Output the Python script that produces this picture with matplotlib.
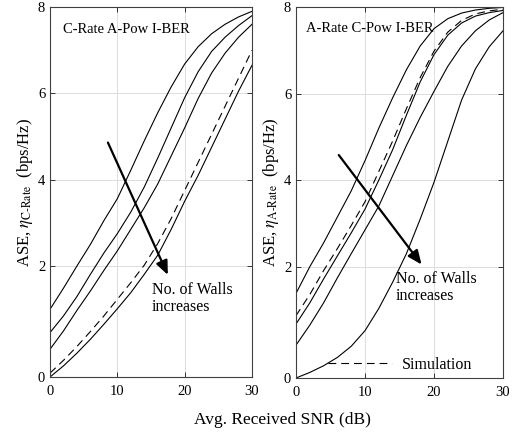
import numpy as np
import matplotlib
matplotlib.use("Agg")
import matplotlib.pyplot as plt

plt.rcParams['font.family'] = ['Liberation Serif', 'DejaVu Serif']
plt.rcParams['mathtext.fontset'] = 'stix'

snr = [0, 2, 4, 6, 8, 10, 12, 14, 16, 18, 20, 22, 24, 26, 28, 30]

# left panel: C-Rate A-Pow I-BER (walls increase top -> bottom)
crate_1 = [1.22, 1.6, 2.0, 2.5, 3.05, 3.56, 4.22, 4.9, 5.55, 6.15, 6.68, 7.08, 7.38, 7.6, 7.77, 7.9]
crate_2 = [0.8, 1.1, 1.45, 1.85, 2.3, 2.75, 3.25, 3.83, 4.5, 5.2, 5.9, 6.5, 6.97, 7.3, 7.57, 7.8]
crate_3 = [0.5, 0.83, 1.2, 1.55, 1.92, 2.35, 2.85, 3.35, 3.9, 4.55, 5.2, 5.88, 6.47, 6.93, 7.3, 7.6]
crate_sim = [0.07, 0.3, 0.55, 0.82, 1.1, 1.4, 1.7, 2.02, 2.52, 3.1, 3.75, 4.4, 5.05, 5.7, 6.35, 7.0]
crate_4 = [0.0, 0.2, 0.43, 0.68, 0.95, 1.23, 1.52, 1.85, 2.25, 2.85, 3.5, 4.1, 4.75, 5.4, 6.05, 6.65]

# right panel: A-Rate C-Pow I-BER
arate_1 = [1.52, 2.0, 2.55, 3.15, 3.75, 4.45, 5.2, 5.9, 6.55, 7.1, 7.5, 7.73, 7.86, 7.93, 7.97, 7.99]
arate_sim = [1.12, 1.5, 1.93, 2.42, 2.95, 3.5, 4.2, 4.9, 5.65, 6.37, 6.98, 7.42, 7.69, 7.84, 7.91, 7.95]
arate_2 = [0.97, 1.35, 1.78, 2.25, 2.78, 3.33, 4.0, 4.7, 5.5, 6.27, 6.9, 7.35, 7.63, 7.79, 7.87, 7.92]
arate_3 = [0.59, 0.95, 1.35, 1.8, 2.3, 2.85, 3.4, 4.1, 4.8, 5.45, 6.05, 6.63, 7.1, 7.45, 7.7, 7.87]
arate_4 = [0.0, 0.1, 0.22, 0.37, 0.57, 0.85, 1.25, 1.72, 2.3, 3.1, 3.95, 4.9, 5.85, 6.57, 7.08, 7.45]

xticks = [0, 10, 20, 30]
yticks = [0, 2, 4, 6, 8]


# y axis in the original is stretched below 2
def fwd(y):
    y = np.asarray(y, dtype=float)
    return np.where(y <= 2, y * 0.15, 0.3 + (y - 2) * 0.7 / 6)


def inv(t):
    t = np.asarray(t, dtype=float)
    return np.where(t <= 0.3, t / 0.15, 2 + (t - 0.3) * 6 / 0.7)


fig = plt.figure(figsize=(5.13, 4.34), dpi=100)
ax1 = fig.add_axes([50 / 513, 57 / 434, 202 / 513, 370 / 434])
ax2 = fig.add_axes([296 / 513, 56 / 434, 207 / 513, 371 / 434])

dash = [7, 4.5]

for c in [crate_1, crate_2, crate_3, crate_4]:
    ax1.plot(snr, c, color='k', lw=0.8)
ax1.plot(snr, crate_sim, color='k', lw=0.8, dashes=dash)

for c in [arate_1, arate_2, arate_3, arate_4]:
    ax2.plot(snr, c, color='k', lw=0.8)
ax2.plot(snr, arate_sim, color='k', lw=0.8, dashes=dash, label='Simulation')

for ax in (ax1, ax2):
    ax.set_yscale('function', functions=(fwd, inv))
    ax.set_xlim(0, 30)
    ax.set_ylim(0, 8)
    ax.set_xticks(xticks)
    ax.set_yticks(yticks)
    ax.set_xticklabels([str(v) for v in xticks])
    ax.set_yticklabels([str(v) for v in yticks])
    ax.grid(True, color='#dddddd', lw=0.7)
    ax.set_axisbelow(True)
    ax.tick_params(direction='in', top=True, right=True, length=3.5, width=0.7,
                   labelsize=10.5, color='#333333', pad=3.5)
    ax.tick_params(axis='x', pad=6)
    for s in ax.spines.values():
        s.set_color('#404040')
        s.set_linewidth(0.8)

ax1.set_ylabel(r'ASE, $\eta_{\text{C-Rate}}$  (bps/Hz)', fontsize=12, labelpad=2)
ax2.set_ylabel(r'ASE, $\eta_{\text{A-Rate}}$  (bps/Hz)', fontsize=12, labelpad=2)

ax1.text(0.065, 0.957, 'C-Rate A-Pow I-BER', transform=ax1.transAxes, va='top', fontsize=10.5)
ax2.text(0.048, 0.96, 'A-Rate C-Pow I-BER', transform=ax2.transAxes, va='top', fontsize=10.5)

arrow = dict(arrowstyle='-|>,head_length=0.7,head_width=0.3', color='k', lw=1.6,
             mutation_scale=12, shrinkA=0, shrinkB=0)
ax1.annotate('', xy=(17.5, 1.84), xytext=(8.6, 4.86), arrowprops=arrow)
ax2.annotate('', xy=(18.2, 2.05), xytext=(6.2, 4.58), arrowprops=arrow)

ax1.text(15.1, 1.72, 'No. of Walls\nincreases', fontsize=11.5, va='top', linespacing=1.1)
ax2.text(14.5, 1.92, 'No. of Walls\nincreases', fontsize=11.5, va='top', linespacing=1.1)

ax2.legend(loc='center right', bbox_to_anchor=(0.905, 0.035), frameon=False,
           fontsize=11.5, handlelength=4.0, handletextpad=0.6, borderpad=0.2)

fig.text(282 / 513, 0.032, 'Avg. Received SNR (dB)', ha='center', va='center', fontsize=12.5)

fig.savefig('out.png', dpi=100)
